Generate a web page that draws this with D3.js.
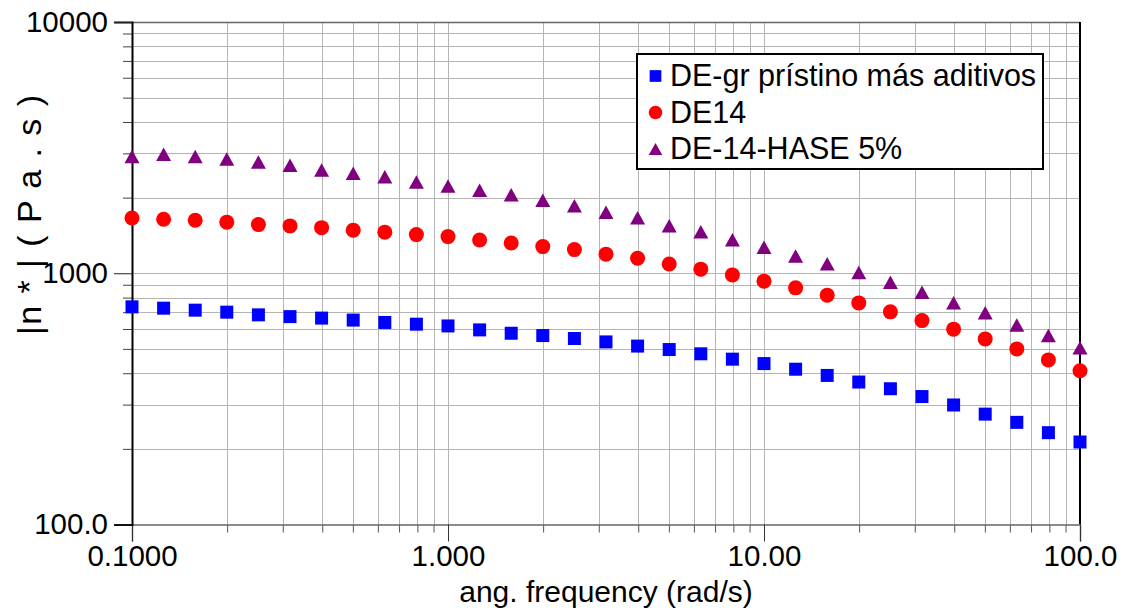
<!DOCTYPE html>
<html>
<head>
<meta charset="utf-8">
<script src="https://cdn.jsdelivr.net/npm/d3@7"></script>
<style>
  body { margin: 0; background: #fff; }
  text { font-family: Arial, "Liberation Sans", sans-serif; fill: #000; }
</style>
</head>
<body>
<div id="chart"></div>
<script>
// Data
const freq = [0.1, 0.1259, 0.1585, 0.1995, 0.2512, 0.3162, 0.3981, 0.5012, 0.631, 0.7943,
  1, 1.259, 1.585, 1.995, 2.512, 3.162, 3.981, 5.012, 6.31, 7.943,
  10, 12.59, 15.85, 19.95, 25.12, 31.62, 39.81, 50.12, 63.1, 79.43, 100];
const pristino = [735, 726, 713, 700, 683, 672, 663, 651, 637, 627,
  617, 595, 577, 565, 550, 533, 513, 497, 478, 455,
  437, 415, 392, 369, 347, 323, 299, 275, 255, 232, 213];
const de14 = [1660, 1641, 1626, 1597, 1562, 1543, 1519, 1484, 1457, 1425,
  1399, 1357, 1320, 1277, 1242, 1191, 1148, 1089, 1038, 985,
  930, 875, 818, 762, 702, 648, 599, 548, 500, 452, 409];
const hase = [2912, 2976, 2912, 2851, 2773, 2691, 2578, 2500, 2424, 2309,
  2226, 2140, 2054, 1954, 1857, 1750, 1663, 1547, 1463, 1360,
  1269, 1172, 1092, 1008, 921, 841, 763, 697, 622, 565, 505];

const seriesNames = ['DE-gr prístino más aditivos', 'DE14', 'DE-14-HASE 5%'];
const xTicks = [0.1, 1, 10, 100];
const xTickLabels = ['0.1000', '1.000', '10.00', '100.0'];
const yTicks = [100, 1000, 10000];
const yTickLabels = ['100.0', '1000', '10000'];

// Layout
const W = 1123, H = 613;
const MARGIN = { top: 22, right: 43, bottom: 88.5, left: 132 };
const width = W - MARGIN.left - MARGIN.right;
const height = H - MARGIN.top - MARGIN.bottom;

const x = d3.scaleLog().domain([0.1, 100]).range([0, width]);
const y = d3.scaleLog().domain([100, 10000]).range([height, 0]);

// minor positions 2..9 within each decade
const minorOf = (lo, hi) => {
  const out = [];
  for (let d = lo; d < hi; d *= 10) for (let k = 2; k <= 9; k++) out.push(d * k);
  return out;
};
const xMinor = minorOf(0.1, 100);
const yMinor = minorOf(100, 10000);

const svg = d3.select('#chart').append('svg')
  .attr('width', W).attr('height', H);

const g = svg.append('g')
  .attr('transform', `translate(${MARGIN.left},${MARGIN.top})`);

// Grid
const grid = g.append('g').attr('stroke', '#b4b4b4').attr('stroke-width', 1);
grid.selectAll('.vg').data(xMinor.concat(xTicks.slice(1, -1))).join('line')
  .attr('x1', d => Math.round(x(d)) + 0.5).attr('x2', d => Math.round(x(d)) + 0.5)
  .attr('y1', 0).attr('y2', height);
grid.selectAll('.hg').data(yMinor.concat(yTicks.slice(1, -1))).join('line')
  .attr('y1', d => Math.round(y(d)) + 0.5).attr('y2', d => Math.round(y(d)) + 0.5)
  .attr('x1', 0).attr('x2', width);

// Frame
g.append('line').attr('x1', 0).attr('x2', width).attr('y1', 0.5).attr('y2', 0.5)
  .attr('stroke', '#666').attr('stroke-width', 1.5);
g.append('line').attr('x1', width).attr('x2', width).attr('y1', 0).attr('y2', height)
  .attr('stroke', '#000').attr('stroke-width', 2);

// X axis
const xAxisG = g.append('g').attr('transform', `translate(0,${height})`);
xAxisG.append('g')
  .call(d3.axisBottom(x).tickValues(xMinor).tickSize(8).tickFormat(''))
  .call(a => a.select('.domain').remove())
  .call(a => a.selectAll('line').attr('stroke', '#555'));
xAxisG.append('g')
  .call(d3.axisBottom(x).tickValues(xTicks).tickSize(17).tickPadding(6)
    .tickFormat((d, i) => xTickLabels[i]))
  .call(a => a.select('.domain').attr('stroke', '#666').attr('stroke-width', 1.5))
  .call(a => a.selectAll('line').attr('stroke', '#333'))
  .call(a => a.selectAll('text').attr('font-size', 29.5).attr('dy', '0.62em'));

// Y axis
const yAxisG = g.append('g');
yAxisG.append('g')
  .call(d3.axisLeft(y).tickValues(yMinor).tickSize(9).tickFormat(''))
  .call(a => a.select('.domain').remove())
  .call(a => a.selectAll('line').attr('stroke', '#444'));
yAxisG.append('g')
  .call(d3.axisLeft(y).tickValues(yTicks).tickSize(18).tickPadding(6)
    .tickFormat((d, i) => yTickLabels[i]))
  .call(a => a.select('.domain').attr('stroke', '#000').attr('stroke-width', 2))
  .call(a => a.selectAll('line').attr('stroke', '#222'))
  .call(a => a.selectAll('text').attr('font-size', 29.5));

svg.selectAll('.tick text').style('font-family', 'Arial, "Liberation Sans", sans-serif').attr('fill', '#000');

// Axis titles
svg.append('text')
  .attr('x', MARGIN.left + width / 2).attr('y', 602)
  .attr('text-anchor', 'middle').attr('font-size', 30)
  .text('ang. frequency (rad/s)');

svg.append('text')
  .attr('transform', 'translate(41,215) rotate(-90)')
  .attr('text-anchor', 'middle').attr('font-size', 34)
  .attr('textLength', 240).attr('lengthAdjust', 'spacing')
  .text('|n * |  ( P a . s )');

// Markers
const series = [
  { name: seriesNames[0], values: pristino, color: '#0000ff', shape: d3.symbolSquare, size: 169 },
  { name: seriesNames[1], values: de14, color: '#ff0000', shape: d3.symbolCircle, size: 177 },
  { name: seriesNames[2], values: hase, color: '#800080', shape: 'tri', size: 15 }
];

const triPath = s => `M0,${-s * 0.45}L${s / 2},${s * 0.45}L${-s / 2},${s * 0.45}Z`;
const symPath = (sr, scale = 1) => sr.shape === 'tri'
  ? triPath(sr.size * scale)
  : d3.symbol(sr.shape, sr.size * scale * scale)();

series.forEach(sr => {
  g.append('g').selectAll('path')
    .data(freq.map((f, i) => [f, sr.values[i]]))
    .join('path')
    .attr('transform', d => `translate(${x(d[0])},${y(d[1])})`)
    .attr('d', symPath(sr))
    .attr('fill', sr.color);
});

// Legend
const legend = svg.append('g').attr('transform', 'translate(637,54)');
legend.append('rect')
  .attr('x', 0).attr('y', 0).attr('width', 406).attr('height', 115)
  .attr('fill', '#fff').attr('stroke', '#000').attr('stroke-width', 2);
series.forEach((sr, i) => {
  const row = legend.append('g').attr('transform', `translate(0,${22 + i * 36.5})`);
  row.append('path')
    .attr('transform', 'translate(18.5,0)')
    .attr('d', symPath(sr, 0.9))
    .attr('fill', sr.color);
  row.append('text')
    .attr('x', 33).attr('y', 10)
    .attr('font-size', 30.5)
    .text(sr.name);
});
</script>
</body>
</html>
